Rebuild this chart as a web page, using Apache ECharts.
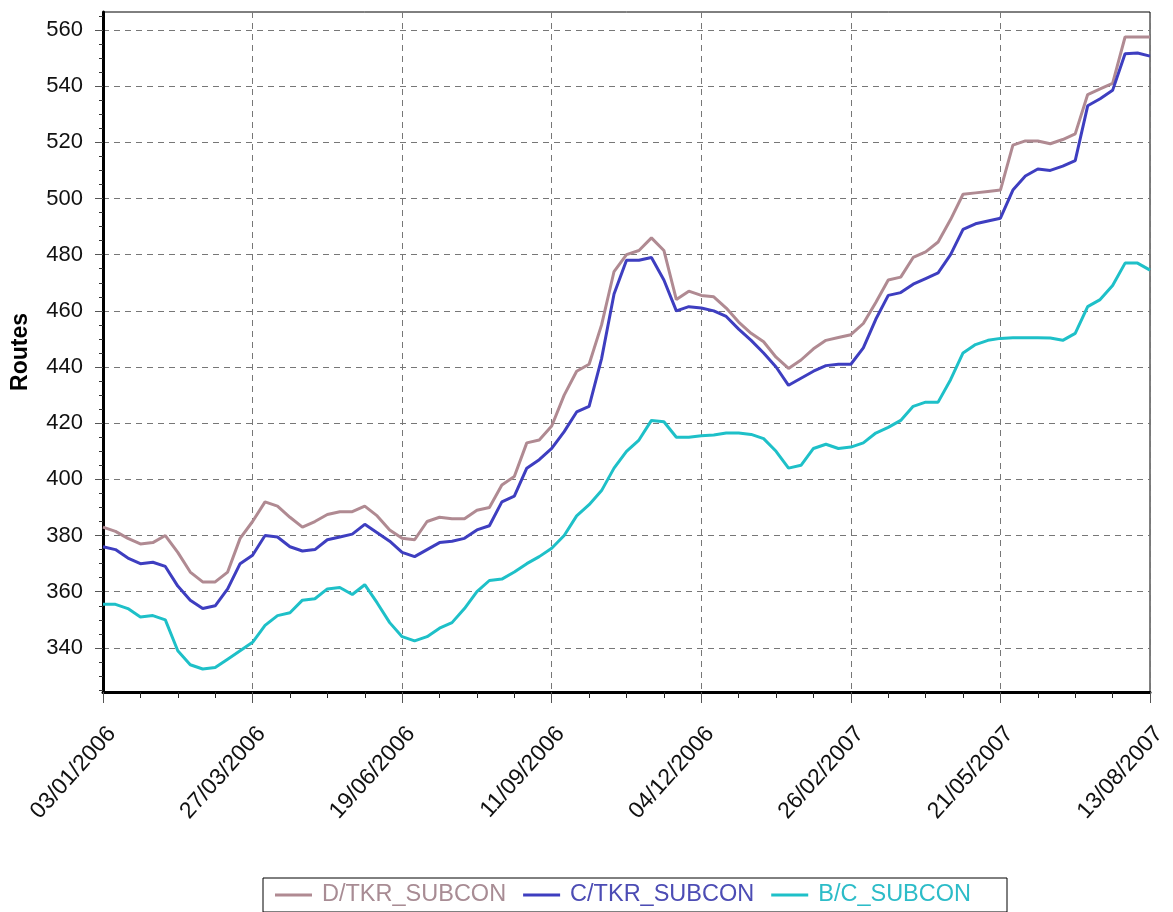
<!DOCTYPE html>
<html>
<head>
<meta charset="utf-8">
<script src="https://cdn.jsdelivr.net/npm/echarts@6/dist/echarts.min.js"></script>
<style>html,body{margin:0;padding:0;background:#fff}#c{width:1173px;height:912px}</style>
</head>
<body>
<div id="c"></div>
<script>
// weekly categories
const startLabel = '03/01/2006';
const weekCount = 85;
const yTickValues = [340, 360, 380, 400, 420, 440, 460, 480, 500, 520, 540, 560];
const seriesNames = ['D/TKR_SUBCON', 'C/TKR_SUBCON', 'B/C_SUBCON'];

const dTkr = [383, 381.5, 379, 377, 377.5, 380, 374, 367, 363.5, 363.5, 367, 379,
  385, 392, 390.5, 386.5, 383, 385, 387.5, 388.5, 388.5, 390.5, 387, 382,
  379, 378.5, 385, 386.5, 386, 386, 389, 390, 398, 401, 413, 414,
  419, 430, 438.5, 441, 455, 474, 480, 481.5, 486, 481.5, 464, 467,
  465.5, 465, 461, 456, 452, 449, 443.5, 439.5, 442.5, 446.5, 449.5, 450.5,
  451.5, 455.5, 463, 471, 472, 479, 481, 484.5, 492.5, 501.5, 502, 502.5,
  503, 519, 520.5, 520.5, 519.5, 521, 523, 537, 539, 541, 557.5, 557.5, 557.5];

const cTkr = [376, 375, 372, 370, 370.5, 369, 362, 357, 354, 355, 361, 370,
  373, 380, 379.5, 376, 374.5, 375, 378.5, 379.5, 380.5, 384, 381, 378,
  374, 372.5, 375, 377.5, 378, 379, 382, 383.5, 392, 394, 404, 407,
  411, 417, 424, 426, 443, 466, 478, 478, 479, 471, 460, 461.5,
  461, 460, 458, 453.5, 449.5, 445, 440, 433.5, 436, 438.5, 440.5, 441,
  441, 446.8, 457, 465.5, 466.5, 469.5, 471.5, 473.5, 480, 489, 491, 492,
  493, 503, 508, 510.5, 510, 511.5, 513.5, 533, 535.5, 538.5, 551.5, 551.8, 550.7];

const bC = [355.5, 355.5, 354, 351, 351.5, 350, 339, 334, 332.5, 333, 336, 339,
  342, 348, 351.5, 352.5, 357, 357.5, 361, 361.5, 359, 362.5, 356, 349,
  344, 342.5, 344, 347, 349, 354, 360, 364, 364.5, 367, 370, 372.5,
  375.5, 380, 387, 391, 396, 404, 410, 414, 421, 420.5, 415, 415,
  415.5, 415.8, 416.5, 416.5, 416, 414.5, 410, 404, 405, 411, 412.5, 411,
  411.5, 413, 416.5, 418.5, 421, 426, 427.5, 427.5, 435.5, 445, 448, 449.5,
  450.2, 450.4, 450.4, 450.4, 450.3, 449.5, 452, 461.5, 464, 469, 477, 477, 474.5];

const lineColors = ['#b08a92', '#3e3ec0', '#1ec0c8'];
const legendTextColors = ['#a88c94', '#4c4cb4', '#2cbcc8'];

function pad(n) { return (n < 10 ? '0' : '') + n; }
const categories = [];
for (let i = 0; i < weekCount; i++) {
  const d = new Date(Date.UTC(2006, 0, 2 + 7 * i));
  categories.push(pad(d.getUTCDate()) + '/' + pad(d.getUTCMonth() + 1) + '/' + d.getUTCFullYear());
}
categories[0] = startLabel;

const minorTicks = [];
for (let v = 325; v <= 565; v += 5) if (v % 20 !== 0) minorTicks.push(v);

const FONT = 'Liberation Sans, Arial, sans-serif';
const chart = echarts.init(document.getElementById('c'));
chart.setOption({
  animation: false,
  backgroundColor: '#fff',
  grid: { left: 103, right: 23, top: 12, bottom: 220, show: true, borderColor: '#000', borderWidth: 1,
    backgroundColor: 'transparent', containLabel: false, outerBoundsMode: 'none' },
  legend: {
    left: 263, top: 878,
    orient: 'horizontal',
    padding: [5, 36, 5, 12],
    itemGap: 17,
    itemWidth: 37, itemHeight: 3,
    icon: 'rect',
    borderColor: '#000', borderWidth: 1,
    data: seriesNames.map((n, k) => ({ name: n, textStyle: { color: legendTextColors[k] } })),
    textStyle: { fontFamily: FONT, fontSize: 23.5, padding: [0, 0, 0, 5] }
  },
  xAxis: [{
    type: 'category', data: categories, boundaryGap: false,
    axisLine: { lineStyle: { color: '#000', width: 3 } },
    axisTick: { interval: (i) => i % 3 === 0, length: 6, lineStyle: { color: '#222', width: 1 } },
    axisLabel: { interval: 11, rotate: 48, align: 'right', verticalAlign: 'top', lineHeight: 24, margin: 30,
      color: '#111', fontFamily: FONT, fontSize: 23, showMaxLabel: true },
    splitLine: { show: true, interval: 11, lineStyle: { color: '#777', type: [6, 5], width: 1 } }
  }, {
    type: 'category', data: categories, boundaryGap: false, position: 'bottom',
    axisLine: { show: false },
    axisTick: { interval: 11, length: 11, lineStyle: { color: '#555', width: 1 } },
    axisLabel: { show: false },
    splitLine: { show: false }
  }],
  yAxis: [{
    type: 'value', min: 324.3, max: 566.4,
    name: 'Routes', nameLocation: 'middle', nameGap: 71, nameRotate: 90,
    nameTextStyle: { fontFamily: FONT, fontSize: 23, fontWeight: 'bold', color: '#000' },
    axisLine: { show: true, lineStyle: { color: '#000', width: 3 } },
    axisTick: { show: true, customValues: yTickValues, length: 8, lineStyle: { color: '#555', width: 1 } },
    axisLabel: { customValues: yTickValues, margin: 20, color: '#111', fontFamily: FONT, fontSize: 22 },
    splitLine: { show: true, lineStyle: { color: '#777', type: [6, 5], width: 1 } }
  }, {
    type: 'value', min: 324.3, max: 566.4, position: 'left', alignTicks: false,
    axisLine: { show: false },
    axisTick: { show: true, customValues: minorTicks, length: 4, lineStyle: { color: '#333', width: 1 } },
    axisLabel: { show: false },
    splitLine: { show: false }
  }],
  series: [dTkr, cTkr, bC].map((arr, k) => ({
    name: seriesNames[k], type: 'line', data: arr, xAxisIndex: 0, yAxisIndex: 0,
    symbol: 'none', smooth: false,
    lineStyle: { color: lineColors[k], width: 3 },
    itemStyle: { color: lineColors[k] }
  }))
});
</script>
</body>
</html>
